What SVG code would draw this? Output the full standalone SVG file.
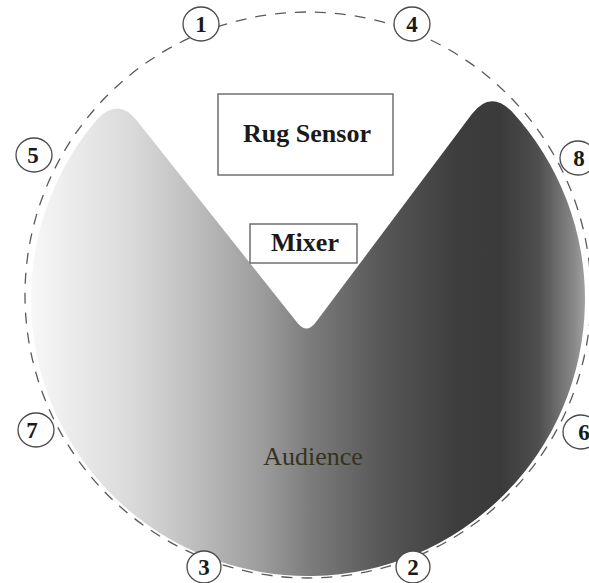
<svg xmlns="http://www.w3.org/2000/svg" width="589" height="583" viewBox="0 0 589 583">
  <defs>
    <linearGradient id="shade" gradientUnits="userSpaceOnUse" x1="31" y1="0" x2="589" y2="0">
      <stop offset="0" stop-color="#f7f7f7"/>
      <stop offset="0.18" stop-color="#dadada"/>
      <stop offset="0.3" stop-color="#bcbcbc"/>
      <stop offset="0.42" stop-color="#9a9a9a"/>
      <stop offset="0.5" stop-color="#7c7c7c"/>
      <stop offset="0.63" stop-color="#575757"/>
      <stop offset="0.76" stop-color="#3e3e3e"/>
      <stop offset="0.84" stop-color="#3a3a3a"/>
      <stop offset="0.91" stop-color="#4f4f4f"/>
      <stop offset="0.97" stop-color="#858585"/>
      <stop offset="1" stop-color="#a8a8a8"/>
    </linearGradient>
  </defs>
  <style>
    .box { fill: #ffffff; stroke: #666666; stroke-width: 1.4; }
    .lbl { font-family: "Liberation Serif", "Times New Roman", serif; font-weight: bold; font-size: 26px; fill: #1a1a1a; text-anchor: middle; }
    .num ellipse { fill: #ffffff; stroke: #4a4a4a; stroke-width: 1.3; }
    .num text { font-family: "Liberation Serif", "Times New Roman", serif; font-weight: bold; font-size: 23px; fill: #1a1a1a; text-anchor: middle; }
    .dash { fill: none; stroke: #5a5a5a; stroke-width: 1.3; stroke-dasharray: 11 9; }
  </style>
  <rect width="589" height="583" fill="#ffffff"/>

  <g id="connectors">
    <circle class="dash" cx="308" cy="295" r="283"/>
  </g>

  <g id="audience-area">
    <path fill="url(#shade)" d="M137,120.7 L297.3,322.8 Q306.6,334.5 315.6,322.5 L471.9,114.1 Q489.9,90.1 511.4,111 A277,277 0 1 1 97.6,118.8 Q118.3,97.2 137,120.7 Z"/>
  </g>

  <g id="audience">
    <text x="313" y="465" font-family="Liberation Serif, Times New Roman, serif" font-size="26" fill="#34331f" text-anchor="middle">Audience</text>
  </g>

  <g id="rug-sensor">
    <rect class="box" x="218" y="94" width="175" height="81"/>
    <text class="lbl" x="307" y="142">Rug Sensor</text>
  </g>

  <g id="mixer">
    <rect class="box" x="250" y="224" width="107" height="39"/>
    <text class="lbl" x="305" y="251">Mixer</text>
  </g>

  <g id="speaker-1" class="num"><ellipse cx="201" cy="24" rx="18" ry="17"/><text x="201" y="32">1</text></g>
  <g id="speaker-4" class="num"><ellipse cx="412" cy="24" rx="18" ry="17"/><text x="412" y="32">4</text></g>
  <g id="speaker-5" class="num"><ellipse cx="34" cy="155" rx="18" ry="17"/><text x="33" y="163">5</text></g>
  <g id="speaker-8" class="num"><ellipse cx="578" cy="158" rx="18" ry="17"/><text x="579" y="166">8</text></g>
  <g id="speaker-7" class="num"><ellipse cx="36" cy="430" rx="18" ry="17"/><text x="32" y="438">7</text></g>
  <g id="speaker-6" class="num"><ellipse cx="581" cy="432" rx="18" ry="17"/><text x="584" y="440">6</text></g>
  <g id="speaker-3" class="num"><ellipse cx="204" cy="567" rx="17" ry="16"/><text x="204" y="575">3</text></g>
  <g id="speaker-2" class="num"><ellipse cx="413" cy="567" rx="17" ry="16"/><text x="413" y="575">2</text></g>
</svg>
